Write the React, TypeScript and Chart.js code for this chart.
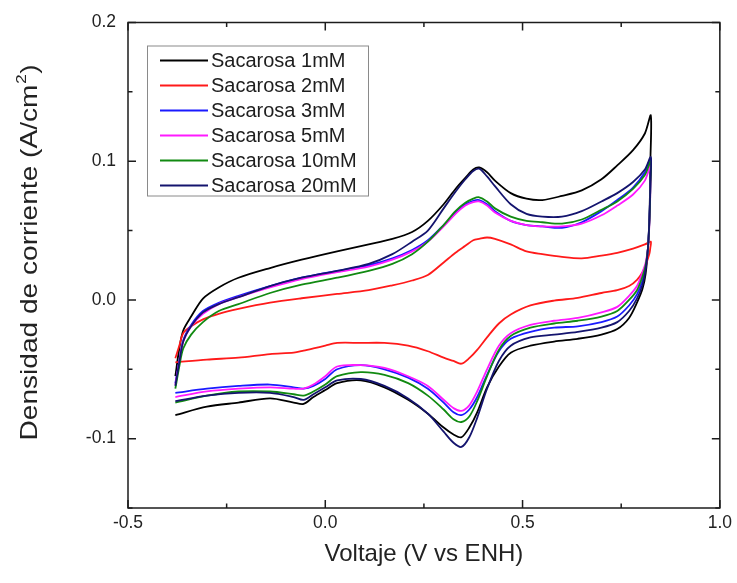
import React, { useEffect, useRef } from "react";
import { Chart, registerables } from "chart.js";

Chart.register(...registerables);

// ---- data ----
const seriesLabels = [
  "Sacarosa 1mM",
  "Sacarosa 2mM",
  "Sacarosa 3mM",
  "Sacarosa 5mM",
  "Sacarosa 10mM",
  "Sacarosa 20mM",
];
const seriesColors = ["#000000", "#ff1a1a", "#1a1aff", "#ff1aff", "#118a11", "#14146e"];

// forward (anodic) scan potentials, V vs ENH
const forwardPotential = [
  -0.38, -0.37, -0.36, -0.34, -0.31, -0.27, -0.22, -0.14, -0.06, 0.03, 0.11, 0.17, 0.22, 0.26, 0.3,
  0.33, 0.355, 0.375, 0.39, 0.41, 0.43, 0.47, 0.51, 0.55, 0.6, 0.65, 0.7, 0.74, 0.78, 0.81, 0.825,
];
// reverse (cathodic) scan potentials
const reversePotential = [
  0.824, 0.822, 0.818, 0.812, 0.804, 0.79, 0.77, 0.74, 0.7, 0.64, 0.58, 0.52, 0.47, 0.44, 0.41, 0.385,
  0.365, 0.345, 0.325, 0.3, 0.26, 0.21, 0.15, 0.09, 0.03, 0.0, -0.03, -0.055, -0.08, -0.14, -0.22, -0.3,
  -0.38,
];

// current density, A/cm2
const j1mMFwd = [
  -0.055, -0.035, -0.022, -0.012, 0.001, 0.009, 0.016, 0.023, 0.029, 0.035, 0.04, 0.044, 0.049, 0.057,
  0.069, 0.08, 0.088, 0.094, 0.0955, 0.092, 0.086, 0.077, 0.073, 0.072, 0.075, 0.079, 0.087, 0.097, 0.108,
  0.12, 0.133,
];
const j1mMRev = [
  0.1, 0.065, 0.038, 0.019, 0.008, -0.002, -0.013, -0.021, -0.025, -0.028, -0.03, -0.033, -0.038, -0.048,
  -0.063, -0.081, -0.092, -0.099, -0.097, -0.092, -0.082, -0.072, -0.063, -0.058, -0.06, -0.065, -0.07,
  -0.075, -0.074, -0.071, -0.074, -0.077, -0.083,
];
const j2mMFwd = [
  -0.042, -0.033, -0.024, -0.019, -0.014, -0.01, -0.0065, -0.002, 0.0012, 0.0043, 0.007, 0.0105, 0.014,
  0.018, 0.027, 0.034, 0.039, 0.043, 0.044, 0.045, 0.044, 0.04, 0.035, 0.033, 0.031, 0.03, 0.032, 0.034,
  0.037, 0.04, 0.042,
];
const j2mMRev = [
  0.038, 0.034, 0.03, 0.025, 0.02, 0.0145, 0.01, 0.007, 0.005, 0.0015, -0.0005, -0.004, -0.0105, -0.017,
  -0.027, -0.036, -0.042, -0.046, -0.044, -0.0416, -0.037, -0.033, -0.031, -0.031, -0.031, -0.033, -0.035,
  -0.0366, -0.038, -0.039, -0.0416, -0.043, -0.045,
];
const j3mMFwd = [
  -0.06, -0.044, -0.029, -0.018, -0.008, -0.002, 0.003, 0.01, 0.016, 0.021, 0.025, 0.03, 0.036, 0.043,
  0.054, 0.063, 0.069, 0.0715, 0.072, 0.069, 0.064, 0.057, 0.054, 0.053, 0.052, 0.056, 0.064, 0.072, 0.081,
  0.092, 0.102,
];
const j3mMRev = [
  0.085, 0.062, 0.038, 0.024, 0.014, 0.004, -0.004, -0.012, -0.016, -0.019, -0.02, -0.023, -0.028, -0.037,
  -0.054, -0.07, -0.079, -0.083, -0.081, -0.074, -0.064, -0.056, -0.05, -0.047, -0.05, -0.057, -0.062,
  -0.064, -0.063, -0.061, -0.062, -0.064, -0.067,
];
const j5mMFwd = [
  -0.061, -0.045, -0.03, -0.019, -0.01, -0.003, 0.002, 0.009, 0.015, 0.02, 0.024, 0.029, 0.035, 0.042,
  0.053, 0.062, 0.068, 0.0705, 0.071, 0.068, 0.063, 0.057, 0.054, 0.053, 0.053, 0.055, 0.061, 0.068,
  0.076, 0.086, 0.097,
];
const j5mMRev = [
  0.08, 0.058, 0.038, 0.027, 0.02, 0.01, 0.003, -0.005, -0.009, -0.013, -0.015, -0.018, -0.024, -0.033,
  -0.05, -0.066, -0.076, -0.08, -0.078, -0.072, -0.062, -0.055, -0.049, -0.047, -0.048, -0.055, -0.061,
  -0.064, -0.064, -0.063, -0.064, -0.066, -0.07,
];
const j10mMFwd = [
  -0.064, -0.048, -0.035, -0.025, -0.016, -0.008, -0.003, 0.005, 0.011, 0.016, 0.021, 0.026, 0.033,
  0.042, 0.054, 0.064, 0.07, 0.073, 0.074, 0.071, 0.066, 0.06, 0.057, 0.056, 0.055, 0.058, 0.065, 0.071,
  0.08, 0.09, 0.1,
];
const j10mMRev = [
  0.082, 0.06, 0.038, 0.025, 0.017, 0.007, 0.0, -0.008, -0.012, -0.015, -0.017, -0.02, -0.026, -0.036,
  -0.055, -0.073, -0.084, -0.088, -0.086, -0.079, -0.069, -0.06, -0.054, -0.052, -0.055, -0.061, -0.066,
  -0.069, -0.068, -0.066, -0.066, -0.069, -0.074,
];
const j20mMFwd = [
  -0.062, -0.045, -0.03, -0.019, -0.009, -0.003, 0.002, 0.01, 0.016, 0.021, 0.026, 0.033, 0.042, 0.05,
  0.066, 0.078, 0.087, 0.093, 0.0946, 0.089, 0.082, 0.069, 0.062, 0.06, 0.06, 0.064, 0.071, 0.077, 0.085,
  0.094, 0.103,
];
const j20mMRev = [
  0.085, 0.062, 0.038, 0.022, 0.011, 0.001, -0.008, -0.016, -0.02, -0.023, -0.025, -0.027, -0.033, -0.044,
  -0.064, -0.085, -0.099, -0.106, -0.103, -0.095, -0.082, -0.071, -0.062, -0.057, -0.058, -0.063, -0.068,
  -0.072, -0.07, -0.067, -0.067, -0.069, -0.073,
];

const seriesFwd = [j1mMFwd, j2mMFwd, j3mMFwd, j5mMFwd, j10mMFwd, j20mMFwd];
const seriesRev = [j1mMRev, j2mMRev, j3mMRev, j5mMRev, j10mMRev, j20mMRev];

const xMajorTicks = [-0.5, 0.0, 0.5, 1.0];
const xMinorTicks = [-0.25, 0.25, 0.75];
const yMajorTicks = [-0.1, 0.0, 0.1, 0.2];
const yMinorTicks = [-0.15, -0.05, 0.05, 0.15];
const xTitle = "Voltaje (V vs ENH)";
const yTitleMain = "Densidad de corriente (A/cm";
const yTitleSup = "2";
const yTitleEnd = ")";

const FONT = "'Liberation Sans', Arial, Helvetica, sans-serif";
const TEXT = "#222222";

const isMajor = (v: number, majors: number[]) => majors.some((m) => Math.abs(m - v) < 1e-6);

const framePlugin = {
  id: "frameTicksLegend",
  afterDatasetsDraw(chart: any) {
    const { ctx, chartArea } = chart;
    const { left, right, top, bottom } = chartArea;
    const xs = chart.scales.x;
    const ys = chart.scales.y;
    ctx.save();
    ctx.strokeStyle = "#1c1c1c";
    ctx.lineWidth = 1.5;
    ctx.strokeRect(left, top, right - left, bottom - top);
    ctx.beginPath();
    xs.ticks.forEach((t: any) => {
      const px = xs.getPixelForValue(t.value);
      const len = isMajor(t.value, xMajorTicks) ? 8 : 4.5;
      ctx.moveTo(px, bottom);
      ctx.lineTo(px, bottom - len);
      ctx.moveTo(px, top);
      ctx.lineTo(px, top + len);
    });
    ys.ticks.forEach((t: any) => {
      const py = ys.getPixelForValue(t.value);
      const len = isMajor(t.value, yMajorTicks) ? 8 : 4.5;
      ctx.moveTo(left, py);
      ctx.lineTo(left + len, py);
      ctx.moveTo(right, py);
      ctx.lineTo(right - len, py);
    });
    ctx.stroke();

    // legend
    const bx = left + 19;
    const by = top + 23;
    const bw = 221;
    const bh = 150;
    ctx.fillStyle = "#ffffff";
    ctx.fillRect(bx, by, bw, bh);
    ctx.strokeStyle = "#8a8a8a";
    ctx.lineWidth = 1;
    ctx.strokeRect(bx + 0.5, by + 0.5, bw, bh);
    ctx.font = `20px ${FONT}`;
    ctx.textBaseline = "middle";
    ctx.textAlign = "left";
    chart.data.datasets.forEach((ds: any, i: number) => {
      const ry = by + 15 + i * 25;
      ctx.strokeStyle = ds.borderColor;
      ctx.lineWidth = 2;
      ctx.beginPath();
      ctx.moveTo(bx + 13, ry);
      ctx.lineTo(bx + 61, ry);
      ctx.stroke();
      ctx.fillStyle = "#1e1e1e";
      ctx.fillText(ds.label, bx + 64, ry + 1);
    });

    // axis titles
    ctx.fillStyle = TEXT;
    ctx.textBaseline = "middle";
    ctx.textAlign = "center";
    ctx.font = `24px ${FONT}`;
    ctx.fillText(xTitle, (left + right) / 2, 554);

    ctx.save();
    ctx.translate(30, 253);
    ctx.rotate(-Math.PI / 2);
    ctx.scale(1.17, 1);
    ctx.textAlign = "left";
    ctx.font = `24px ${FONT}`;
    const w1 = ctx.measureText(yTitleMain).width;
    const w3 = ctx.measureText(yTitleEnd).width;
    ctx.font = `15px ${FONT}`;
    const w2 = ctx.measureText(yTitleSup).width;
    const x0 = -(w1 + w2 + w3) / 2;
    ctx.font = `24px ${FONT}`;
    ctx.fillText(yTitleMain, x0, 0);
    ctx.font = `15px ${FONT}`;
    ctx.fillText(yTitleSup, x0 + w1 + 0.5, -8);
    ctx.font = `24px ${FONT}`;
    ctx.fillText(yTitleEnd, x0 + w1 + w2 + 1, 0);
    ctx.restore();

    ctx.restore();
  },
};

export default function App() {
  const ref = useRef<HTMLCanvasElement | null>(null);
  useEffect(() => {
    document.body.style.margin = "0";
    if (!ref.current) return;
    const datasets = seriesLabels.map((label, i) => ({
      label,
      data: [
        ...forwardPotential.map((x, k) => ({ x, y: seriesFwd[i][k] })),
        ...reversePotential.map((x, k) => ({ x, y: seriesRev[i][k] })),
      ],
      borderColor: seriesColors[i],
      backgroundColor: seriesColors[i],
      borderWidth: 1.8,
      pointRadius: 0,
      showLine: true,
      tension: 0.3,
      fill: false,
      order: seriesLabels.length - 1 - i,
    }));
    const chart = new Chart(ref.current, {
      type: "scatter",
      data: { datasets },
      plugins: [framePlugin],
      options: {
        responsive: false,
        animation: false,
        layout: { padding: { left: 0, right: 17, top: 20, bottom: 0 } },
        plugins: { legend: { display: false }, tooltip: { enabled: false } },
        scales: {
          x: {
            type: "linear",
            min: -0.5,
            max: 1.0,
            afterBuildTicks: (s: any) => {
              s.ticks = [...xMajorTicks, ...xMinorTicks].sort((a, b) => a - b).map((v) => ({ value: v }));
            },
            afterFit: (s: any) => {
              s.height = 75;
            },
            grid: { display: false, drawTicks: false },
            border: { display: false },
            ticks: {
              autoSkip: false,
              maxRotation: 0,
              padding: 5,
              color: TEXT,
              font: { family: FONT, size: 17.5 },
              callback: (v: any) => (isMajor(Number(v), xMajorTicks) ? Number(v).toFixed(1) : ""),
            },
            title: { display: false },
          },
          y: {
            type: "linear",
            min: -0.15,
            max: 0.2,
            afterBuildTicks: (s: any) => {
              s.ticks = [...yMajorTicks, ...yMinorTicks].sort((a, b) => a - b).map((v) => ({ value: v }));
            },
            afterFit: (s: any) => {
              s.width = 128;
            },
            grid: { display: false, drawTicks: false },
            border: { display: false },
            ticks: {
              autoSkip: false,
              padding: 12,
              color: TEXT,
              font: { family: FONT, size: 17.5 },
              callback: (v: any) => (isMajor(Number(v), yMajorTicks) ? Number(v).toFixed(1) : ""),
            },
            title: { display: false },
          },
        },
      },
    });
    return () => chart.destroy();
  }, []);
  return (
    <div style={{ position: "fixed", left: 0, top: 0, width: 737, height: 583, background: "#fff" }}>
      <canvas ref={ref} width={737} height={583} style={{ display: "block" }} />
    </div>
  );
}
